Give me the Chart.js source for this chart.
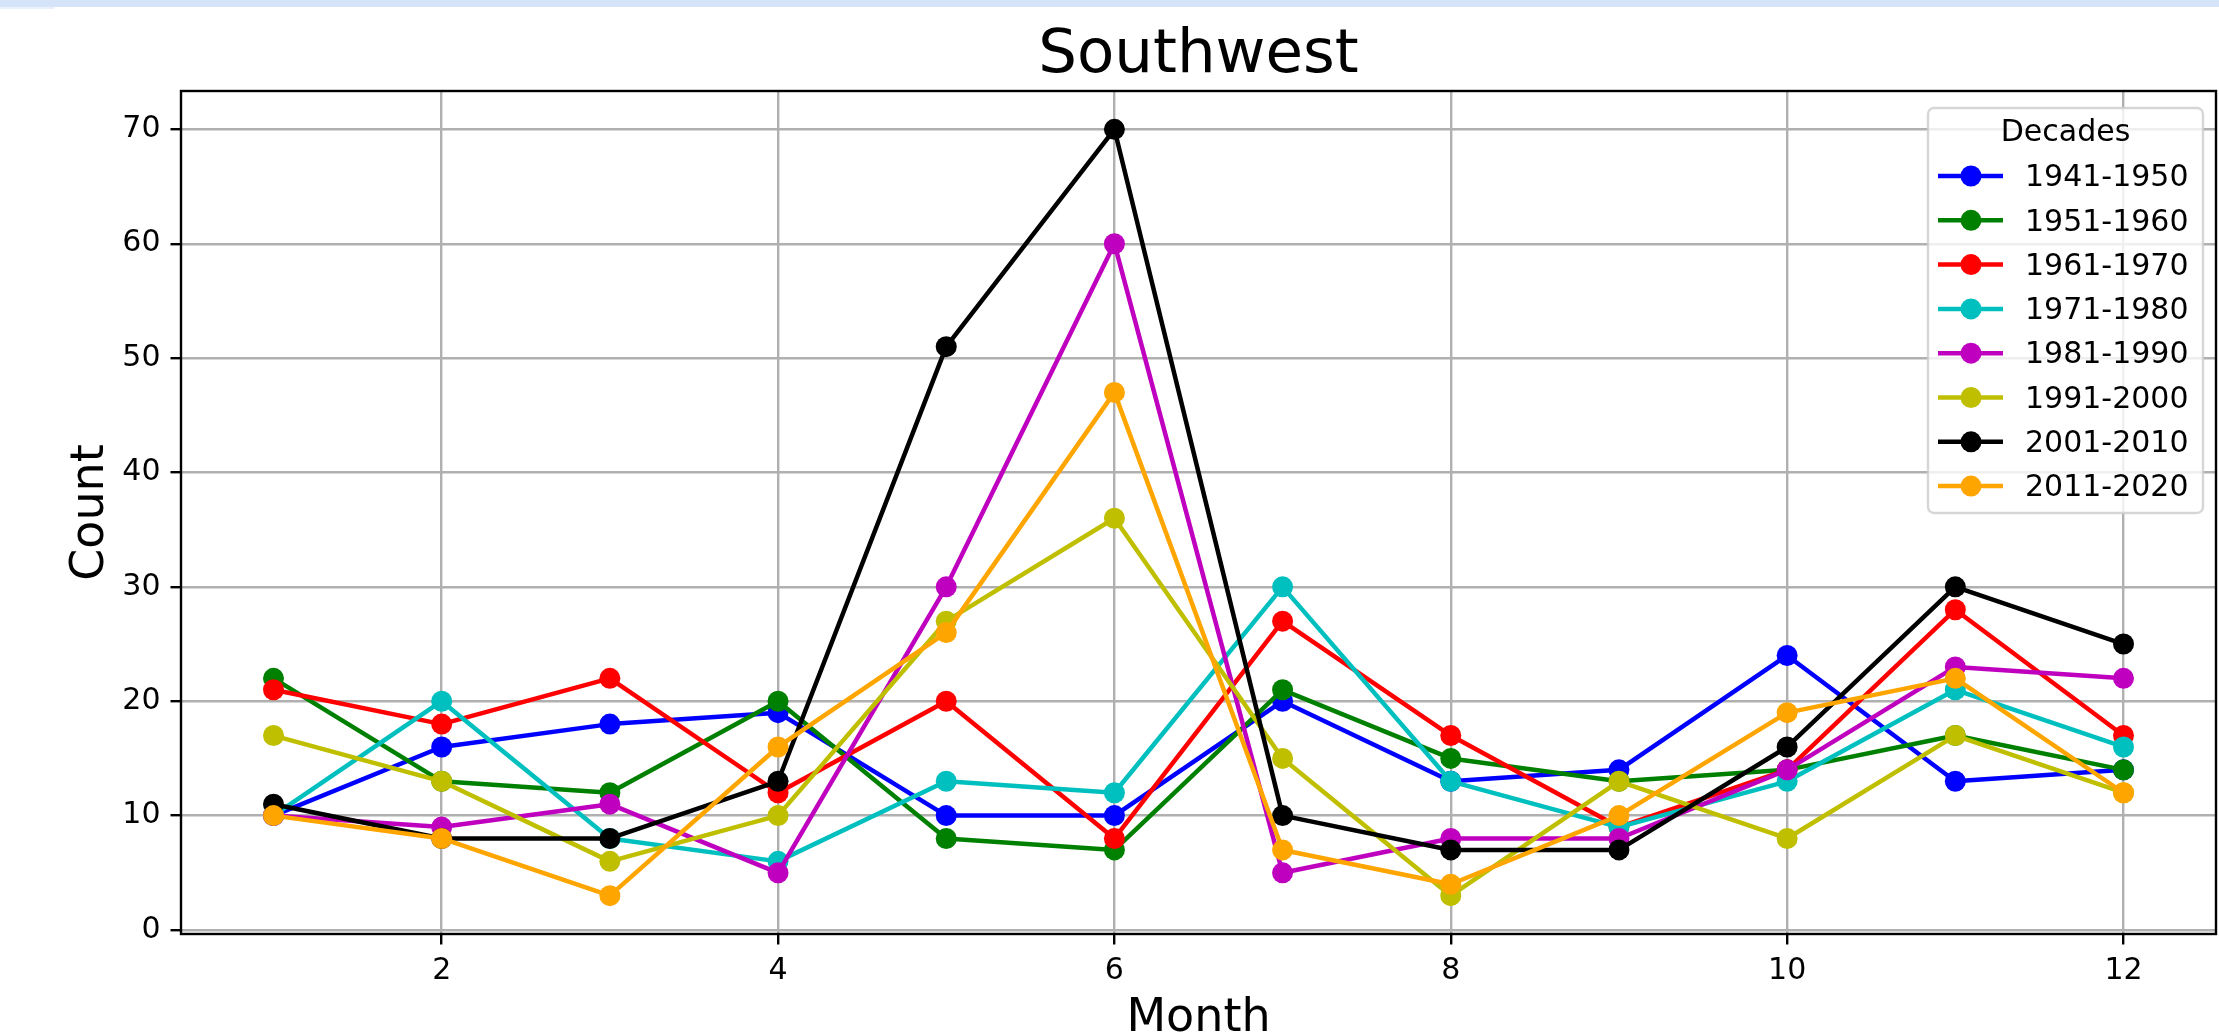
<!DOCTYPE html>
<html><head><meta charset="utf-8">
<script src="https://cdn.jsdelivr.net/npm/chart.js@4.4.1/dist/chart.umd.min.js"></script>
<style>
html,body{margin:0;padding:0;background:#fff;overflow:hidden;}
#wrap{position:relative;width:2219px;height:1035px;}
#strip{position:absolute;left:0;top:0;width:2219px;height:7px;background:#d6e4fa;}
#strip2{position:absolute;left:0;top:7px;width:54px;height:2px;background:#e9f0fb;}
canvas{position:absolute;left:0;top:0;}
</style></head><body>
<div id="wrap"><canvas id="c" width="2219" height="1035"></canvas><div id="strip"></div><div id="strip2"></div></div>
<script>
const chartTitle = 'Southwest';
const xAxisTitle = 'Month';
const yAxisTitle = 'Count';
const legendTitle = 'Decades';
const months = [1,2,3,4,5,6,7,8,9,10,11,12];
const decadeLabels = ['1941-1950','1951-1960','1961-1970','1971-1980','1981-1990','1991-2000','2001-2010','2011-2020'];
const decadeColors = ['#0000ff','#008000','#ff0000','#00bfbf','#bf00bf','#bfbf00','#000000','#ffa500'];
const d1941 = [10,16,18,19,10,10,20,13,14,24,13,14];
const d1951 = [22,13,12,20,8,7,21,15,13,14,17,14];
const d1961 = [21,18,22,12,20,8,27,17,9,14,28,17];
const d1971 = [10,20,8,6,13,12,30,13,9,13,21,16];
const d1981 = [10,9,11,5,30,60,5,8,8,14,23,22];
const d1991 = [17,13,6,10,27,36,15,3,13,8,17,12];
const d2001 = [11,8,8,13,51,70,10,7,7,16,30,25];
const d2011 = [10,8,3,16,26,47,7,4,10,19,22,12];
const seriesValues = [d1941,d1951,d1961,d1971,d1981,d1991,d2001,d2011];
const xTicks = [2,4,6,8,10,12];
const yTicks = [0,10,20,30,40,50,60,70];

const FONT = '"DejaVu Sans", "Liberation Sans", sans-serif';

const datasets = seriesValues.map((vals, i) => ({
  label: decadeLabels[i],
  data: months.map((m, j) => ({x: m, y: vals[j]})),
  borderColor: decadeColors[i],
  backgroundColor: decadeColors[i],
  pointBackgroundColor: decadeColors[i],
  pointBorderColor: decadeColors[i],
  pointBorderWidth: 0,
  pointRadius: 10.5,
  borderWidth: 4.5,
  borderJoinStyle: 'round',
  fill: false,
  tension: 0,
  order: seriesValues.length - i
}));

function roundRect(ctx, x, y, w, h, r) {
  ctx.beginPath();
  ctx.moveTo(x + r, y);
  ctx.lineTo(x + w - r, y);
  ctx.arcTo(x + w, y, x + w, y + r, r);
  ctx.lineTo(x + w, y + h - r);
  ctx.arcTo(x + w, y + h, x + w - r, y + h, r);
  ctx.lineTo(x + r, y + h);
  ctx.arcTo(x, y + h, x, y + h - r, r);
  ctx.lineTo(x, y + r);
  ctx.arcTo(x, y, x + r, y, r);
  ctx.closePath();
}

const framePlugin = {
  id: 'mplFrame',
  afterDatasetsDraw(chart) {
    const ctx = chart.ctx, ca = chart.chartArea;
    ctx.save();
    ctx.strokeStyle = '#000';
    ctx.lineWidth = 2.4;
    ctx.strokeRect(ca.left, ca.top, ca.right - ca.left, ca.bottom - ca.top);
    ctx.restore();
  }
};

const legendPlugin = {
  id: 'mplLegend',
  afterDraw(chart) {
    const ctx = chart.ctx, ca = chart.chartArea;
    const x0 = ca.right - 288, y0 = ca.top + 17, w = 275, h = 405;
    ctx.save();
    roundRect(ctx, x0, y0, w, h, 6);
    ctx.fillStyle = 'rgba(255,255,255,0.8)';
    ctx.fill();
    ctx.strokeStyle = 'rgba(204,204,204,0.8)';
    ctx.lineWidth = 2.4;
    ctx.stroke();
    ctx.font = '30px ' + FONT;
    ctx.fillStyle = '#000';
    ctx.textBaseline = 'middle';
    ctx.textAlign = 'center';
    ctx.fillText(legendTitle, x0 + w / 2, y0 + 25);
    chart.data.datasets.forEach((ds, i) => {
      const cy = y0 + 68 + i * 44.3;
      ctx.strokeStyle = ds.borderColor;
      ctx.lineWidth = 4.5;
      ctx.beginPath();
      ctx.moveTo(x0 + 10, cy);
      ctx.lineTo(x0 + 75, cy);
      ctx.stroke();
      ctx.fillStyle = ds.borderColor;
      ctx.beginPath();
      ctx.arc(x0 + 43, cy, 10.5, 0, Math.PI * 2);
      ctx.fill();
      ctx.fillStyle = '#000';
      ctx.textAlign = 'left';
      ctx.fillText(ds.label, x0 + 97, cy + 2.5);
    });
    ctx.restore();
  }
};

new Chart(document.getElementById('c'), {
  type: 'line',
  data: { datasets },
  options: {
    responsive: false,
    animation: false,
    devicePixelRatio: 1,
    events: [],
    layout: { autoPadding: false, padding: { left: 0, right: 3, top: 0, bottom: 0 } },
    plugins: {
      legend: { display: false },
      tooltip: { enabled: false },
      title: { display: false }
    },
    scales: {
      titleAxis: {
        type: 'linear',
        position: 'top',
        min: 0.45,
        max: 12.55,
        afterFit: (scale) => { scale.height = 91; scale.paddingLeft = 0; scale.paddingRight = 0; },
        ticks: { display: false },
        grid: { display: false, drawTicks: false },
        border: { display: false },
        title: {
          display: true,
          text: chartTitle,
          color: '#000',
          font: { family: FONT, size: 61, weight: 'normal', lineHeight: 1.2 },
          padding: { top: 20, bottom: 0 }
        }
      },
      x: {
        type: 'linear',
        position: 'bottom',
        min: 0.45,
        max: 12.55,
        afterBuildTicks: (scale) => { scale.ticks = xTicks.map(v => ({ value: v })); },
        afterFit: (scale) => { scale.height = 101; scale.paddingLeft = 0; scale.paddingRight = 0; },
        ticks: {
          color: '#000',
          font: { family: FONT, size: 30 },
          padding: 9,
          maxRotation: 0,
          autoSkip: false
        },
        grid: {
          color: '#b0b0b0',
          lineWidth: 2.4,
          drawTicks: true,
          tickLength: 10.5,
          tickColor: '#000',
          tickWidth: 2.4
        },
        border: { display: false },
        title: {
          display: true,
          text: xAxisTitle,
          color: '#000',
          font: { family: FONT, size: 46, weight: 'normal', lineHeight: 0.7 },
          padding: { top: 0, bottom: 0 }
        }
      },
      y: {
        type: 'linear',
        min: -0.35,
        max: 73.35,
        afterBuildTicks: (scale) => { scale.ticks = yTicks.map(v => ({ value: v })); },
        afterFit: (scale) => { scale.width = 181; },
        ticks: {
          color: '#000',
          font: { family: FONT, size: 30 },
          padding: 10,
          autoSkip: false
        },
        grid: {
          color: '#b0b0b0',
          lineWidth: 2.4,
          drawTicks: true,
          tickLength: 10.5,
          tickColor: '#000',
          tickWidth: 2.4
        },
        border: { display: false },
        title: {
          display: true,
          text: yAxisTitle,
          color: '#000',
          font: { family: FONT, size: 46, weight: 'normal', lineHeight: 1.2 },
          padding: { top: 63, bottom: 0 }
        }
      }
    }
  },
  plugins: [framePlugin, legendPlugin]
});
</script>
</body></html>
